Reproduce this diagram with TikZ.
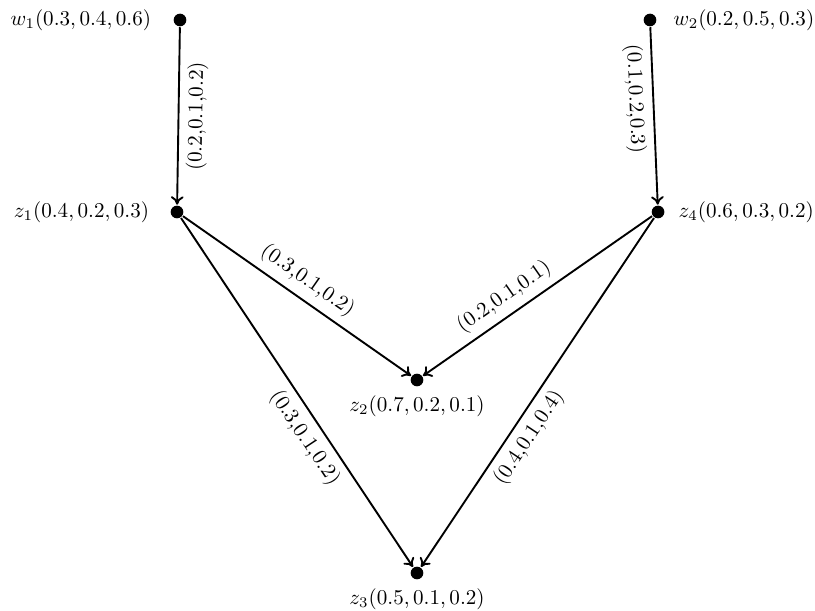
\documentclass[tikz,border=0pt]{standalone}
\usetikzlibrary{arrows.meta}

\begin{document}
\begin{tikzpicture}[line width=0.9pt,
    dot/.style={circle,fill=black,inner sep=0pt,minimum size=6pt},
    flow/.style={-{To[length=4pt,width=6pt]}},
    lab/.style={sloped,font=\normalsize}]
  \useasboundingbox (0,0) rectangle (13.583,-10.183);
  \node[dot,label={[label distance=6.5pt]left:$w_1(0.3,0.4,0.6)$}] (w1) at (3.0,-0.333) {};
  \node[dot,label={[label distance=4pt]right:$w_2(0.2,0.5,0.3)$}] (w2) at (10.833,-0.333) {};
  \node[dot,label={[label distance=6pt]left:$z_1(0.4,0.2,0.3)$}] (z1) at (2.95,-3.533) {};
  \node[dot,label={[label distance=2.5pt]right:$z_4(0.6,0.3,0.2)$}] (z4) at (10.967,-3.533) {};
  \node[dot,label={[label distance=0pt]below:$z_2(0.7,0.2,0.1)$}] (z2) at (6.95,-6.333) {};
  \node[dot,label={[label distance=0pt]below:$z_3(0.5,0.1,0.2)$}] (z3) at (6.95,-9.55) {};
  \draw[flow] (w1) -- node[lab,below]{(0.2,0.1,0.2)} (z1);
  \draw[flow] (w2) -- node[lab,below,pos=0.4]{(0.1,0.2,0.3)} (z4);
  \draw[flow] (z1) -- node[lab,above]{(0.3,0.1,0.2)} (z2);
  \draw[flow] (z4) -- node[lab,above,pos=0.6]{(0.2,0.1,0.1)} (z2);
  \draw[flow] (z1) -- node[lab,below,pos=0.6]{(0.3,0.1,0.2)} (z3);
  \draw[flow] (z4) -- node[lab,below,pos=0.6]{(0.4,0.1,0.4)} (z3);
\end{tikzpicture}
\end{document}
